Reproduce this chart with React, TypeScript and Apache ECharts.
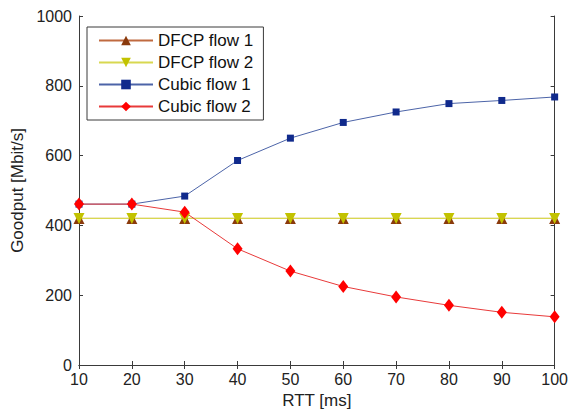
import React, { useEffect, useRef } from "react";
import * as echarts from "echarts";

const rtt = [10, 20, 30, 40, 50, 60, 70, 80, 90, 100];
const dfcp1 = [420, 420, 420, 420, 420, 420, 420, 420, 420, 420];
const dfcp2 = [420, 420, 420, 420, 420, 420, 420, 420, 420, 420];
const cubic1 = [461, 461, 484, 586, 650, 695, 725, 749, 758, 768];
const cubic2 = [461, 461, 438, 333, 269, 225, 195, 171, 151, 138];
const yTicks = [0, 200, 400, 600, 800, 1000];

const FONT = "'Liberation Sans', Arial, Helvetica, sans-serif";

function pairs(ys: number[]) {
  return rtt.map((x, i) => [x, ys[i]]);
}

export default function App() {
  const ref = useRef<HTMLDivElement>(null);
  useEffect(() => {
    const chart = echarts.init(ref.current!, undefined, { renderer: "svg" });
    const axisLine = { show: true, lineStyle: { color: "#3a3a3a", width: 1 } };
    const axisTick = { show: true, inside: true, length: 4, lineStyle: { color: "#3a3a3a" } };
    const xBase = { type: "value" as const, min: 10, max: 100, interval: 10, axisLine, axisTick, splitLine: { show: false } };
    const yBase = { type: "value" as const, min: yTicks[0], max: yTicks[yTicks.length - 1], interval: 200, axisLine, axisTick, splitLine: { show: false } };
    chart.setOption({
      animation: false,
      backgroundColor: "#ffffff",
      grid: { left: 79, right: 15, top: 16, bottom: 46, containLabel: false },
      legend: {
        orient: "vertical",
        left: 87,
        top: 27,
        padding: [5, 10, 5, 11],
        itemGap: 5,
        itemWidth: 54,
        itemHeight: 12,
        borderColor: "#3a3a3a",
        borderWidth: 1,
        backgroundColor: "#ffffff",
        textStyle: { fontFamily: FONT, fontSize: 17, color: "#111" },
        data: ["DFCP flow 1", "DFCP flow 2", "Cubic flow 1", "Cubic flow 2"],
      },
      xAxis: [
        {
          ...xBase,
          position: "bottom",
          axisLabel: { fontFamily: FONT, fontSize: 16, color: "#222", margin: 6 },
          name: "RTT [ms]",
          nameLocation: "middle",
          nameGap: 27,
          nameTextStyle: { fontFamily: FONT, fontSize: 17, color: "#222" },
        },
        { ...xBase, position: "top", axisLabel: { show: false } },
      ],
      yAxis: [
        {
          ...yBase,
          position: "left",
          axisLabel: { fontFamily: FONT, fontSize: 16, color: "#222", margin: 7, formatter: (v: number) => String(v) },
          name: "Goodput [Mbit/s]",
          nameLocation: "middle",
          nameGap: 53,
          nameTextStyle: { fontFamily: FONT, fontSize: 17, color: "#222" },
        },
        { ...yBase, position: "right", axisLabel: { show: false } },
      ],
      series: [
        {
          name: "DFCP flow 1",
          type: "line",
          data: pairs(dfcp1),
          symbol: "triangle",
          symbolSize: 11,
          lineStyle: { color: "#c06a40", width: 1 },
          itemStyle: { color: "#8a3a0c" },
        },
        {
          name: "DFCP flow 2",
          type: "line",
          data: pairs(dfcp2),
          symbol: "triangle",
          symbolRotate: 180,
          symbolSize: 11,
          lineStyle: { color: "#d8d850", width: 1.2 },
          itemStyle: { color: "#c2c200" },
        },
        {
          name: "Cubic flow 1",
          type: "line",
          data: pairs(cubic1),
          symbol: "rect",
          symbolSize: 7,
          lineStyle: { color: "#4c64a8", width: 1 },
          itemStyle: { color: "#102a8c" },
        },
        {
          name: "Cubic flow 2",
          type: "line",
          data: pairs(cubic2),
          symbol: "diamond",
          symbolSize: [10, 13],
          lineStyle: { color: "#e83a3a", width: 1 },
          itemStyle: { color: "#ff0000" },
        },
      ],
    });
    return () => chart.dispose();
  }, []);
  return (
    <div
      ref={ref}
      style={{ position: "fixed", left: 0, top: 0, width: 571, height: 414, background: "#fff" }}
    />
  );
}
